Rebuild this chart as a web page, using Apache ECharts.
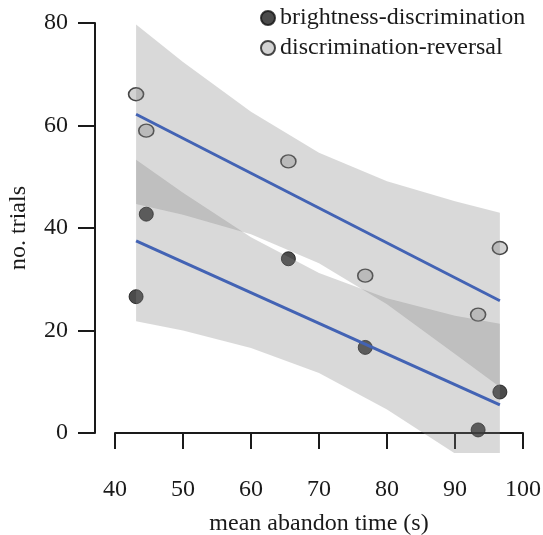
<!DOCTYPE html>
<html>
<head>
<meta charset="utf-8">
<script src="https://cdn.jsdelivr.net/npm/echarts@6/dist/echarts.min.js"></script>
<style>
  html, body { margin: 0; padding: 0; background: #fff; }
  #chart { width: 543px; height: 535px; }
</style>
</head>
<body>
<div id="chart"></div>
<script>
// data
const trialTime = [43.1, 44.6, 65.5, 76.8, 93.4, 96.6];
const brightnessTrials = [26.6, 42.7, 34.0, 16.7, 0.6, 8.0];
const reversalTrials = [66.1, 59.0, 53.0, 30.7, 23.1, 36.1];

// fitted lines (ends)
const fitTime = [43.1, 96.6];
const brightnessFit = [37.5, 5.5];
const reversalFit = [62.2, 25.8];

// confidence bands
const bandTime = [43.1, 50, 60, 70, 80, 90, 96.6];
const brightnessLower = [21.8, 20.0, 16.6, 11.7, 4.6, -4.0, -10.2];
const brightnessUpper = [53.3, 46.9, 38.2, 31.2, 26.3, 22.9, 21.3];
const reversalLower = [44.7, 42.6, 38.8, 33.1, 25.1, 15.4, 9.0];
const reversalUpper = [79.7, 72.4, 62.7, 54.7, 49.1, 45.2, 43.0];

const xTicks = [40, 50, 60, 70, 80, 90, 100];
const yTicks = [0, 20, 40, 60, 80];

const FONT = 'Liberation Serif';
const INK = '#1a1a1a';
const FS = 24;

const chart = echarts.init(document.getElementById('chart'), null, { renderer: 'canvas' });

const pairs = (xs, ys) => xs.map((x, i) => [x, ys[i]]);

// band drawn as one polygon, clipped to the plot region
function band(name, lower, upper) {
    return {
        name: name,
        type: 'custom',
        xAxisIndex: 1, yAxisIndex: 1,
        data: [[bandTime[0], lower[0]]],
        z: 2,
        silent: true,
        renderItem: (params, api) => {
            const top = bandTime.map((x, i) => api.coord([x, upper[i]]));
            const bot = bandTime.map((x, i) => api.coord([x, lower[i]])).reverse();
            const cs = params.coordSys;
            return {
                type: 'polygon',
                shape: { points: top.concat(bot) },
                style: { fill: 'rgba(128,128,128,0.3)' },
                clipPath: { type: 'rect', shape: { x: cs.x, y: cs.y, width: cs.width, height: cs.height } }
            };
        }
    };
}

function fitLine(name, ys) {
    return {
        name: name,
        type: 'line',
        xAxisIndex: 1, yAxisIndex: 1,
        symbol: 'none',
        lineStyle: { color: '#4363b4', width: 3 },
        data: pairs(fitTime, ys),
        z: 3,
        silent: true
    };
}

const xSpan = 20 / 6.8;     // 20px offset in axis units
const ySpan = 20 / 5.125;

const option = {
    animation: false,
    textStyle: { fontFamily: FONT, color: INK },
    legend: {
        data: ['brightness-discrimination', 'discrimination-reversal'],
        orient: 'vertical',
        left: 260,
        top: 6,
        padding: 0,
        itemGap: 6,
        itemWidth: 14,
        itemHeight: 14,
        icon: 'circle',
        textStyle: { fontFamily: FONT, fontSize: FS, color: INK }
    },
    grid: [
        { left: 115, right: 20, top: 23, bottom: 102, outerBoundsMode: 'none', containLabel: false },
        { left: 95, right: 0, top: 3, bottom: 82, outerBoundsMode: 'none', containLabel: false }
    ],
    xAxis: [{
        gridIndex: 0,
        type: 'value',
        min: xTicks[0], max: xTicks[xTicks.length - 1], interval: 10,
        offset: 20,
        name: 'mean abandon time (s)',
        nameLocation: 'middle',
        nameGap: 59,
        nameTextStyle: { fontFamily: FONT, fontSize: FS, color: INK },
        axisLine: { lineStyle: { color: INK, width: 2 } },
        axisTick: { length: 16, lineStyle: { color: INK, width: 2 } },
        axisLabel: { margin: 25, fontFamily: FONT, fontSize: FS, color: INK },
        splitLine: { show: false }
    }, {
        gridIndex: 1,
        type: 'value',
        show: false,
        min: xTicks[0] - xSpan, max: xTicks[xTicks.length - 1] + xSpan
    }],
    yAxis: [{
        gridIndex: 0,
        type: 'value',
        min: yTicks[0], max: yTicks[yTicks.length - 1], interval: 20,
        offset: 20,
        name: 'no. trials',
        nameLocation: 'middle',
        nameRotate: 90,
        nameGap: 64,
        nameTextStyle: { fontFamily: FONT, fontSize: FS, color: INK },
        axisLine: { show: true, lineStyle: { color: INK, width: 2 } },
        axisTick: { show: true, length: 17, lineStyle: { color: INK, width: 2 } },
        axisLabel: { margin: 27, fontFamily: FONT, fontSize: FS, color: INK },
        splitLine: { show: false }
    }, {
        gridIndex: 1,
        type: 'value',
        show: false,
        min: yTicks[0] - ySpan, max: yTicks[yTicks.length - 1] + ySpan
    }],
    series: [
        {
            name: 'brightness-discrimination',
            type: 'scatter',
            xAxisIndex: 1, yAxisIndex: 1,
            symbol: 'circle',
            symbolSize: 14,
            itemStyle: { color: '#1e1e1e', borderColor: '#111111', borderWidth: 1 },
            data: pairs(trialTime, brightnessTrials),
            z: 1
        },
        {
            name: 'discrimination-reversal',
            type: 'scatter',
            xAxisIndex: 1, yAxisIndex: 1,
            symbol: 'circle',
            symbolSize: [15, 13],
            itemStyle: { color: '#c8c8c8', borderColor: '#1a1a1a', borderWidth: 1.5 },
            data: pairs(trialTime, reversalTrials),
            z: 1
        },
        band('brightBand', brightnessLower, brightnessUpper),
        band('revBand', reversalLower, reversalUpper),
        fitLine('brightFit', brightnessFit),
        fitLine('revFit', reversalFit)
    ]
};

chart.setOption(option);
</script>
</body>
</html>
